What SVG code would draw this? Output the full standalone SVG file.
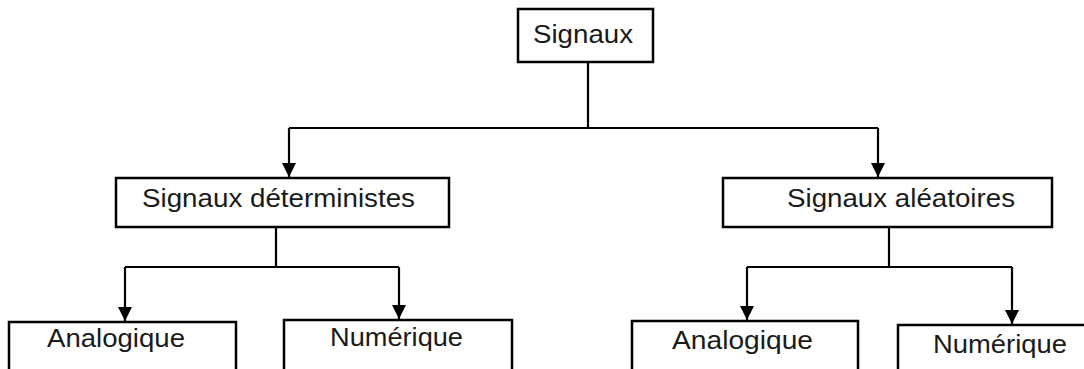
<svg xmlns="http://www.w3.org/2000/svg" width="1084" height="369" viewBox="0 0 1084 369">
<style>
.box{fill:#fff;stroke:#000;stroke-width:2.5}
.lbl{font-family:"Liberation Sans",Arial,sans-serif;font-size:25px;fill:#1a1a1a}
.con{fill:none;stroke:#000;stroke-width:2.2}
</style>
<defs>
<marker id="arr" viewBox="0 0 14 14" refX="14" refY="7" markerWidth="14" markerHeight="14" markerUnits="userSpaceOnUse" orient="auto">
<path d="M0,0 L14,7 L0,14 z" fill="#000"/>
</marker>
</defs>
<rect width="1084" height="369" fill="#fff"/>
<g id="connectors">
<path class="con" d="M588,62 V128"/>
<path class="con" d="M289,128 H878"/>
<path class="con" d="M289,128 V177" marker-end="url(#arr)"/>
<path class="con" d="M878,128 V177" marker-end="url(#arr)"/>
<path class="con" d="M276,227 V267 M125,267 H399"/>
<path class="con" d="M125,267 V321" marker-end="url(#arr)"/>
<path class="con" d="M399,267 V319" marker-end="url(#arr)"/>
<path class="con" d="M889,227 V267 M747,267 H1012"/>
<path class="con" d="M747,267 V320" marker-end="url(#arr)"/>
<path class="con" d="M1012,267 V324" marker-end="url(#arr)"/>
</g>
<g id="n-signaux">
<rect class="box" x="518" y="9" width="135" height="53"/>
<text class="lbl" x="533" y="43" textLength="100" lengthAdjust="spacingAndGlyphs">Signaux</text>
</g>
<g id="n-deterministes">
<rect class="box" x="116" y="178" width="333" height="49"/>
<text class="lbl" x="142" y="207" textLength="273" lengthAdjust="spacingAndGlyphs">Signaux déterministes</text>
</g>
<g id="n-aleatoires">
<rect class="box" x="723" y="178" width="329" height="49"/>
<text class="lbl" x="787" y="207" textLength="228" lengthAdjust="spacingAndGlyphs">Signaux aléatoires</text>
</g>
<g id="n-analogique-1">
<rect class="box" x="9" y="322" width="227" height="60"/>
<text class="lbl" x="47" y="347" textLength="138" lengthAdjust="spacingAndGlyphs">Analogique</text>
</g>
<g id="n-numerique-1">
<rect class="box" x="284" y="320" width="228" height="60"/>
<text class="lbl" x="330" y="346" textLength="133" lengthAdjust="spacingAndGlyphs">Numérique</text>
</g>
<g id="n-analogique-2">
<rect class="box" x="632" y="321" width="226" height="60"/>
<text class="lbl" x="672" y="349" textLength="141" lengthAdjust="spacingAndGlyphs">Analogique</text>
</g>
<g id="n-numerique-2">
<rect class="box" x="898" y="325" width="200" height="60"/>
<text class="lbl" x="933" y="353" textLength="134" lengthAdjust="spacingAndGlyphs">Numérique</text>
</g>
</svg>
